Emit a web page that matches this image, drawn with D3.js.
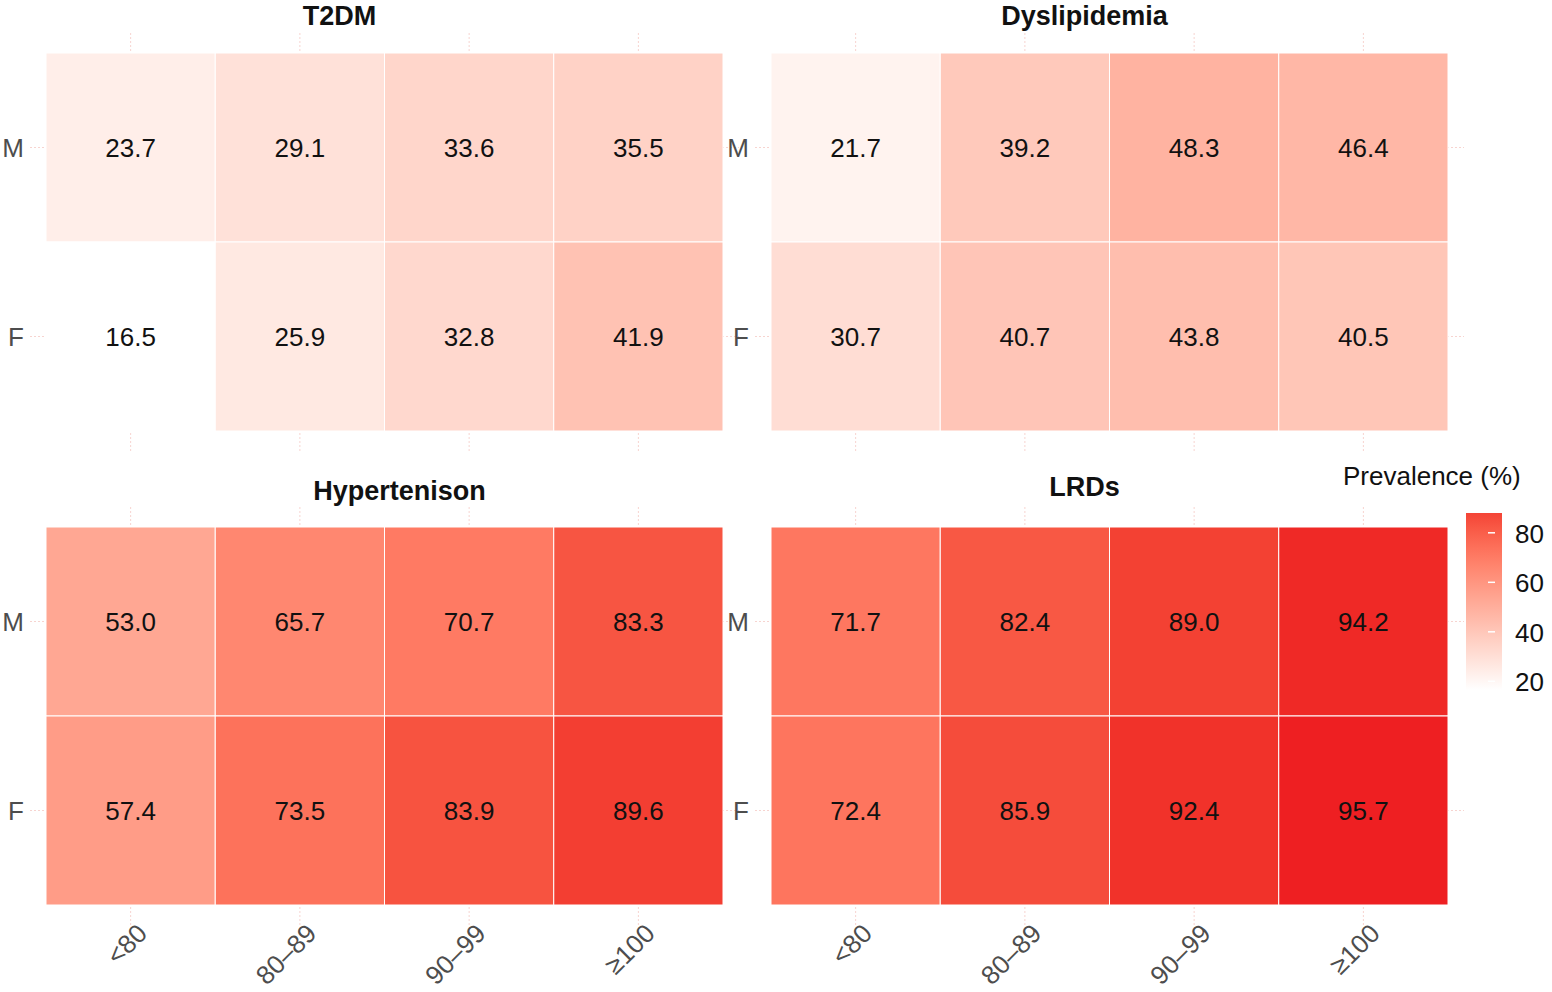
<!DOCTYPE html><html><head><meta charset="utf-8"><script src="https://cdn.jsdelivr.net/npm/d3@7"></script>
<style>body{margin:0;background:#fff}text{font-family:"Liberation Sans",Arial,sans-serif}</style></head><body><svg id="c" width="1552" height="992"></svg><script>
const categories=["<80","80–89","90–99","≥100"];
const sexes=["M","F"];
const panels=["T2DM","Dyslipidemia","Hypertenison","LRDs"];
const valuesT2DM=[[23.7,29.1,33.6,35.5],[16.5,25.9,32.8,41.9]];
const valuesDys=[[21.7,39.2,48.3,46.4],[30.7,40.7,43.8,40.5]];
const valuesHyp=[[53.0,65.7,70.7,83.3],[57.4,73.5,83.9,89.6]];
const valuesLRD=[[71.7,82.4,89.0,94.2],[72.4,85.9,92.4,95.7]];
const legendTicks=[20,40,60,80];
const allVals=[valuesT2DM,valuesDys,valuesHyp,valuesLRD];
const svg=d3.select("#c");
const color=d3.scaleLinear().domain([16.5,95.7]).range(["#ffffff","#ee1f22"]).interpolate(d3.interpolateLab);
const pos=[{x:46,y:53,ty:15},{x:771,y:53,ty:15},{x:46,y:527,ty:490},{x:771,y:527,ty:486}];
const W=677,H=378;
panels.forEach((p,i)=>{
  const P=pos[i];
  const g=svg.append("g").attr("transform",`translate(${P.x},${P.y})`);
  const x=d3.scaleBand().domain(categories).range([0,W]);
  const y=d3.scaleBand().domain(sexes).range([0,H]);
  categories.forEach(c=>g.append("line").attr("x1",x(c)+x.bandwidth()/2).attr("x2",x(c)+x.bandwidth()/2).attr("y1",-20).attr("y2",H+20).attr("stroke","#f7d4d0").attr("stroke-dasharray","2,2"));
  sexes.forEach(s=>g.append("line").attr("y1",y(s)+y.bandwidth()/2).attr("y2",y(s)+y.bandwidth()/2).attr("x1",-16).attr("x2",W+16).attr("stroke","#f7d4d0").attr("stroke-dasharray","2,2"));
  sexes.forEach((s,r)=>categories.forEach((c,k)=>{
    const v=allVals[i][r][k];
    g.append("rect").attr("x",x(c)).attr("y",y(s)).attr("width",x.bandwidth()).attr("height",y.bandwidth()).attr("fill",color(v)).attr("stroke","#fff").attr("stroke-width",1);
    g.append("text").attr("x",x(c)+x.bandwidth()/2).attr("y",y(s)+y.bandwidth()/2+9).attr("text-anchor","middle").attr("font-size",26).attr("fill","#111").text(v.toFixed(1));
  }));
  sexes.forEach(s=>g.append("text").attr("x",-22).attr("y",y(s)+y.bandwidth()/2+9).attr("text-anchor","end").attr("font-size",26).attr("fill","#4d4d4d").text(s));
  svg.append("text").attr("x",P.x+W/2+(i==0?-45:i==2?15:-25)).attr("y",P.ty+10).attr("text-anchor","middle").attr("font-size",27).attr("font-weight","bold").attr("fill","#111").text(p);
  if(i>=2) categories.forEach(c=>{
    const cx=x(c)+x.bandwidth()/2;
    g.append("text").attr("transform",`translate(${cx+18},${H+30}) rotate(-45)`).attr("text-anchor","end").attr("font-size",26).attr("fill","#4d4d4d").text(c);
  });
});
// legend
const lg=svg.append("g");
const defs=svg.append("defs");
const grad=defs.append("linearGradient").attr("id","lgd").attr("x1",0).attr("y1",1).attr("x2",0).attr("y2",0);
const ly=d3.scaleLinear().domain([16.5,88]).range([690,513]);
d3.range(0,1.01,0.1).forEach(t=>{const v=16.5+t*(88-16.5);grad.append("stop").attr("offset",t).attr("stop-color",color(v));});
lg.append("rect").attr("x",1466).attr("y",513).attr("width",36).attr("height",177).attr("fill","url(#lgd)");
legendTicks.forEach(t=>{
  lg.append("line").attr("x1",1488).attr("x2",1495).attr("y1",ly(t)).attr("y2",ly(t)).attr("stroke","#fff").attr("stroke-width",1.5);
  lg.append("text").attr("x",1515).attr("y",ly(t)+10).attr("font-size",26).attr("fill","#111").text(t);
});
lg.append("text").attr("x",1343).attr("y",485).attr("font-size",26).attr("fill","#111").text("Prevalence (%)");
</script></body></html>
